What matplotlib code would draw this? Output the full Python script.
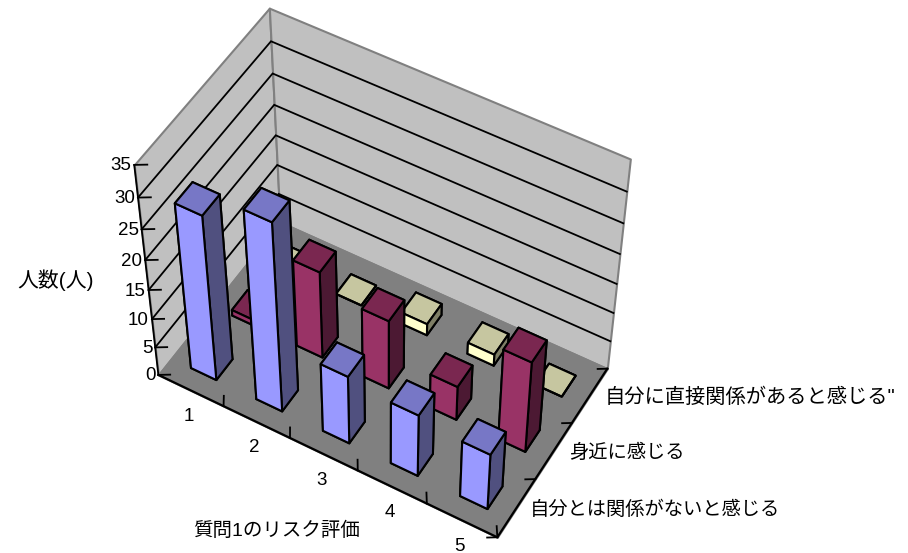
import numpy as np
import matplotlib
matplotlib.use("Agg")
import matplotlib.pyplot as plt
from mpl_toolkits.mplot3d import Axes3D, proj3d
from mpl_toolkits.mplot3d.art3d import Poly3DCollection

FONT = ['Liberation Sans', 'Noto Sans CJK JP', 'DejaVu Sans']
plt.rcParams['font.family'] = FONT

categories = ['1', '2', '3', '4', '5']
series_names = ['自分とは関係がないと感じる', '身近に感じる', '自分に直接関係があると感じる"']
blue_values = [28, 32, 12, 11, 10]
magenta_values = [1, 15, 12, 6, 16]
yellow_values = [0, 0, 2, 2, 0]
series_values = [blue_values, magenta_values, yellow_values]
z_ticks = [0, 5, 10, 15, 20, 25, 30, 35]
x_title = '質問1のリスク評価'
z_title = '人数(人)'

# colours per series: front, top, side
series_colors = [('#9999FF', '#7777C6', '#50507F'),
                 ('#993366', '#7A2750', '#4C1933'),
                 ('#FFFFCC', '#C6C6A0', '#7F7F66')]
wall_color = '#C0C0C0'
floor_color = '#808080'
edge_gray = '#808080'
series_label_sizes = [13.9, 13.9, 14.6]
series_label_dx = [13, 15, 15]

W, H = 908, 553
nx, ny, nz = len(categories), len(series_names), z_ticks[-1]

# camera: fit a projective matrix world -> pixels (y up)
world = [(0, 0, 0), (nx, 0, 0), (nx, ny, 0), (0, ny, 0),
         (0, 0, nz), (0, ny, nz), (nx, ny, nz)]
pix = [(158, 376), (497, 537), (607, 369), (281, 221),
       (135, 164), (268, 9), (631, 159)]
A, b = [], []
for (x, y, z), (u, v) in zip(world, pix):
    v = H - v
    A.append([x, y, z, 1, 0, 0, 0, 0, -u * x, -u * y, -u * z]); b.append(u)
    A.append([0, 0, 0, 0, x, y, z, 1, -v * x, -v * y, -v * z]); b.append(v)
p = np.linalg.lstsq(np.array(A, float), np.array(b, float), rcond=None)[0]
row3 = np.array([p[8], p[9], p[10], 1.0])
depth = np.array([-1 / nx, 1 / ny, -1 / nz, 0.0]) + row3
M = np.array([p[0:4], p[4:8], depth, row3])

fig = plt.figure(figsize=(W / 100, H / 100), dpi=100)
ax = fig.add_axes([0, 0, 1, 1], projection='3d', computed_zorder=False, proj_type='ortho')
ax.apply_aspect = lambda position=None: None
ax.get_proj = lambda: M
ax.set_axis_off()
ax.autoscale(False)
ax.viewLim.intervalx = (0, W)
ax.viewLim.intervaly = (0, H)


def label(x, y, z, dx, dy, s, **kw):
    """Text at a projected world position, shifted by dx, dy pixels (dy downwards)."""
    u, v, _ = proj3d.proj_transform(x, y, z, M)
    fig.text((float(u) + dx) / W, (float(v) - dy) / H, s, va='center', **kw)


# walls and floor
left_wall = [(0, 0, 0), (0, ny, 0), (0, ny, nz), (0, 0, nz)]
back_wall = [(0, ny, 0), (nx, ny, 0), (nx, ny, nz), (0, ny, nz)]
floor = [(0, 0, 0), (nx, 0, 0), (nx, ny, 0), (0, ny, 0)]
for i, (poly, col) in enumerate([(left_wall, wall_color), (back_wall, wall_color), (floor, floor_color)]):
    pc = Poly3DCollection([poly], facecolor=col, edgecolor=edge_gray, linewidth=1.5)
    pc.set_zorder(1 + i * 0.01)
    ax.add_collection3d(pc, autolim=False)

# gridlines
for z in z_ticks[1:-1]:
    ax.plot([0, 0, nx], [0, ny, ny], [z, z, z], color='black', lw=1.3, zorder=2, solid_joinstyle='miter')

# axis lines
ax.plot([0, nx, nx], [0, 0, ny], [0, 0, 0], color='black', lw=1.6, zorder=3)
ax.plot([0, 0], [0, 0], [0, nz], color='black', lw=1.3, zorder=3)
for z in z_ticks:
    ax.plot([0, 0.13], [0, 0.08], [z, z], color='black', lw=1.3, zorder=3)
    label(0, 0, z, -3, 1, str(z), ha='right', fontsize=13.5)
for i in range(1, nx + 1):
    ax.plot([i, i - 0.085], [0, 0.14], [0, 0], color='black', lw=1.3, zorder=3)
for j in range(0, ny + 1):
    ax.plot([nx, nx - 0.107], [j, j - 0.066], [0, 0], color='black', lw=1.3, zorder=3)

for i, lab in enumerate(categories):
    label(i + 0.5, 0, 0, -2, 26, lab, ha='center', fontsize=13.5)
for j, lab in enumerate(series_names):
    label(nx, j + 0.5, 0, series_label_dx[j], 2, lab, ha='left', fontsize=series_label_sizes[j])

# bars, back to front
bar_w = 0.39
order = 10
for j in reversed(range(ny)):
    front, top, side = series_colors[j]
    for i in range(nx):
        ax.bar3d(i + 0.5 - bar_w / 2, j + 0.5 - bar_w / 2, 0, bar_w, bar_w, series_values[j][i],
                 color=[top, top, front, side, side, side], shade=False,
                 edgecolor='black', linewidth=1.5, zorder=order)
        order += 1

fig.text(277 / W, 1 - 531 / H, x_title, ha='center', va='center', fontsize=14)
fig.text(56 / W, 1 - 280 / H, z_title, ha='center', va='center', fontsize=15)

fig.savefig('out.png', dpi=100)
